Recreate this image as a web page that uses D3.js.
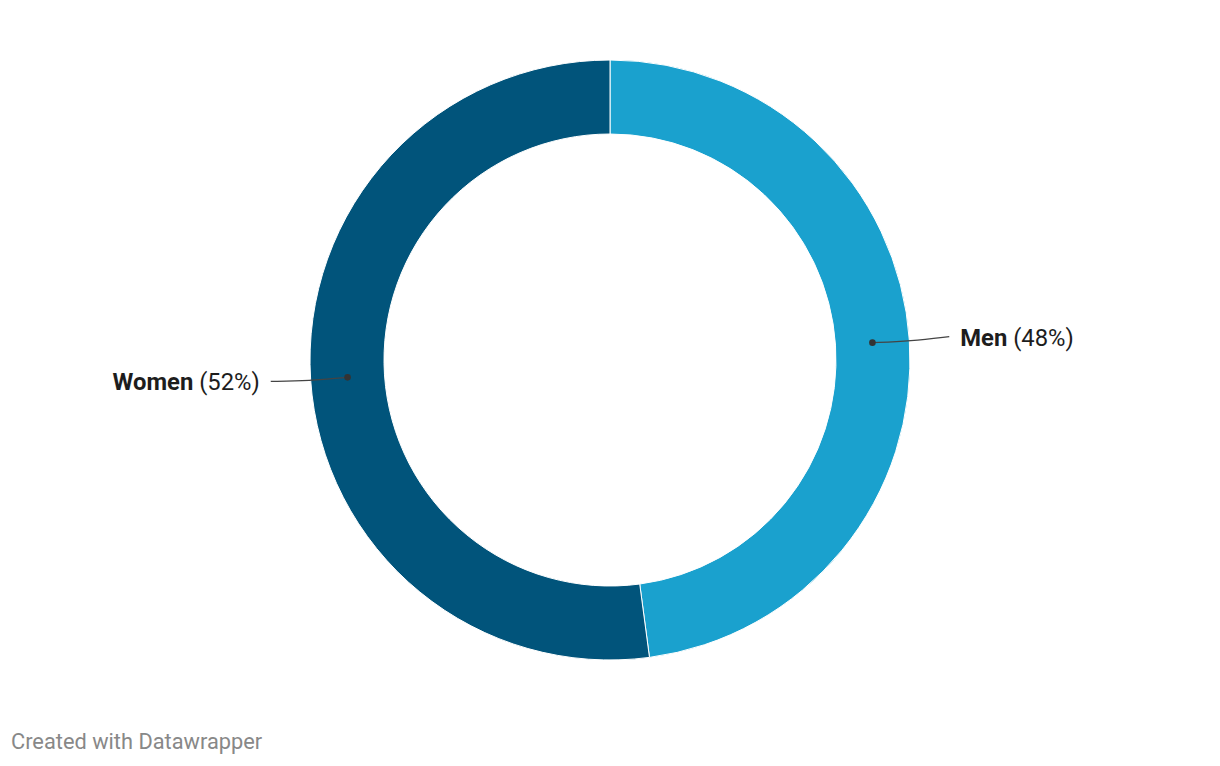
<!DOCTYPE html>
<html><head><meta charset="utf-8">
<script src="https://cdn.jsdelivr.net/npm/d3@7"></script>
<style>
html,body{margin:0;padding:0;background:#fff;}
svg{display:block;font-family:Roboto, sans-serif;}
</style></head>
<body>
<svg id="chart" width="1220" height="766"></svg>
<script>
const categories = ["Men", "Women"];
const values = [47.9, 52.1];
const colors = ["#1aa1ce", "#01547b"];
const footer = "Created with Datawrapper";

const svg = d3.select("#chart");
const cx = 610, cy = 360, outerR = 300, innerR = 226, labelR = 340;
const data = categories.map((c, i) => ({name: c, value: values[i], color: colors[i]}));
const pie = d3.pie().value(d => d.value).sort(null);
const arcs = pie(data);
const arc = d3.arc().innerRadius(innerR).outerRadius(outerR);
const g = svg.append("g").attr("transform", `translate(${cx},${cy})`);

g.selectAll("path.slice").data(arcs).join("path")
  .attr("class", "slice")
  .attr("d", arc)
  .attr("fill", d => d.data.color)
  .attr("stroke", "#fff")
  .attr("stroke-width", 1);

const total = d3.sum(values);
arcs.forEach(a => {
  const ang = (a.startAngle + a.endAngle) / 2;
  const mid = (innerR + outerR) / 2;
  const x0 = mid * Math.sin(ang), y0 = -mid * Math.cos(ang);
  const x1 = labelR * Math.sin(ang), y1 = -labelR * Math.cos(ang);
  g.append("path")
    .attr("d", d3.line().curve(d3.curveBasis)([[x0, y0], [(x0 + x1) / 2, (y0 + y1) / 2 + 1], [x1, y1 - 1]]))
    .attr("fill", "none").attr("stroke", "#444").attr("stroke-width", 1.3);
  g.append("circle").attr("cx", x0).attr("cy", y0).attr("r", 3.3).attr("fill", "#333");
  const right = x1 > 0;
  const t = g.append("text")
    .attr("x", right ? x1 + 11 : x1 - 11)
    .attr("y", y1 - 1)
    .attr("dy", "0.38em")
    .attr("text-anchor", right ? "start" : "end")
    .attr("font-size", 23.8)
    .attr("fill", "#1d1d1d");
  t.append("tspan").attr("font-weight", 700).text(a.data.name);
  t.append("tspan").attr("font-weight", 400).text(` (${Math.round(a.data.value / total * 100)}%)`);
});

svg.append("text").attr("x", 11).attr("y", 749)
  .attr("font-size", 21.8).attr("fill", "#888").text(footer);
</script>
</body></html>
